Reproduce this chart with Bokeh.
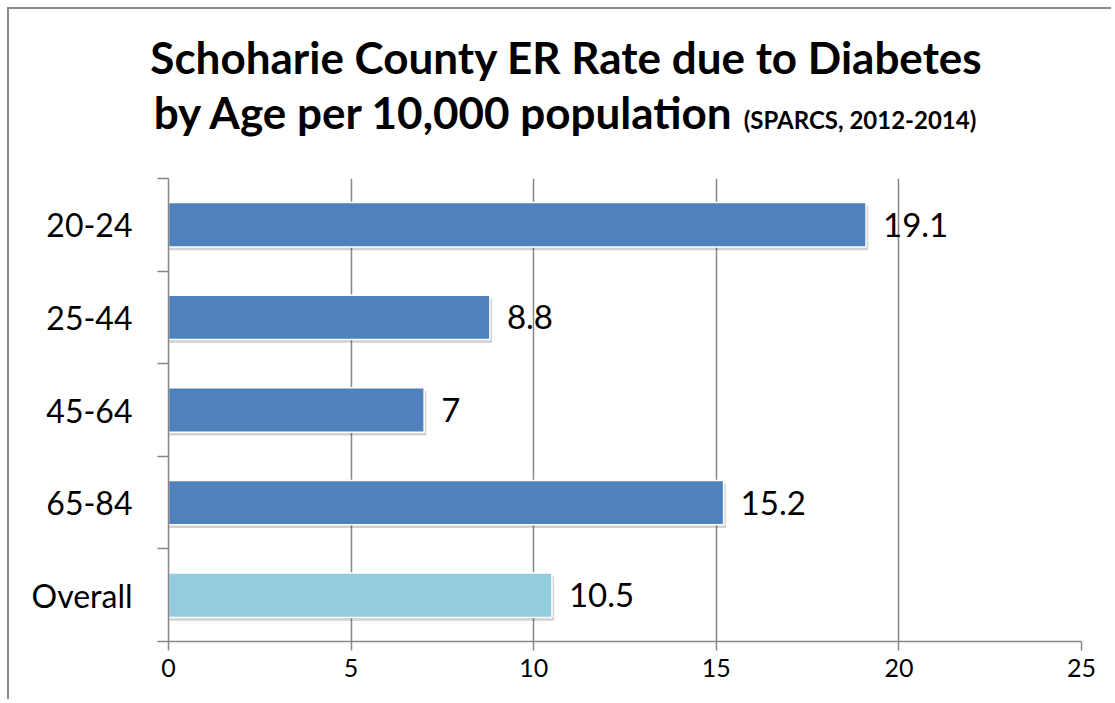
from bokeh.plotting import figure
from bokeh.models import ColumnDataSource, FixedTicker, Range1d, Div
from bokeh.layouts import column
from bokeh.core.properties import value
from bokeh.embed import file_html
from bokeh.resources import INLINE

# ---- data ----
categories = ["20-24", "25-44", "45-64", "65-84", "Overall"]
rates = [19.1, 8.8, 7, 15.2, 10.5]
rate_labels = ["19.1", "8.8", "7", "15.2", "10.5"]
x_ticks = [0, 5, 10, 15, 20, 25]
title_line1 = "Schoharie County ER Rate due to Diabetes"
title_line2 = "by Age per 10,000 population"
title_source = "(SPARCS, 2012-2014)"

FONT = "Lato"
GRAY = "#878787"

n = len(categories)
pos = [n - 1 - i + 0.5 for i in range(n)]
colors = ["#93CDDD" if c == "Overall" else "#4F81BD" for c in categories]

# layout: content starts at page (9,9); a 2px frame line drawn just above/left of it
OFF = 9
DIV_H = 170 - OFF
FIG_W = 1115 - OFF - 2
FIG_H = 703 - 170 - 2
FL = 168 - OFF
FR = FIG_W - (1081 - OFF)
FT = 8
FB = FIG_H - FT - 463

p = figure(width=FIG_W, height=FIG_H, output_backend="svg", toolbar_location=None,
           x_range=Range1d(0, 25), y_range=Range1d(0, n),
           min_border_left=FL, min_border_right=FR, min_border_top=FT, min_border_bottom=FB,
           margin=0)
p.outline_line_color = None
p.background_fill_color = "white"
p.border_fill_color = "white"

src = ColumnDataSource(dict(cat=categories, rate=rates, lab=rate_labels, y=pos, color=colors,
                            sy=[v - 0.035 for v in pos], sr=[r + 0.06 for r in rates]))

# grid
p.ygrid.grid_line_color = None
p.xgrid.ticker = FixedTicker(ticks=x_ticks)
p.xgrid.grid_line_color = GRAY
p.xgrid.grid_line_width = 1.5

# shadow + bars
p.hbar(y="sy", left=0, right="sr", height=0.48, source=src, fill_color="black",
       fill_alpha=0.18, line_color=None)
p.hbar(y="y", left=0, right="rate", height=0.48, source=src, fill_color="color",
       line_color="white", line_width=1.5)

# value labels
p.text(x="rate", y="y", text="lab", source=src, x_offset=17, text_baseline="middle",
       text_align="left", text_font=value(FONT), text_font_size="33px", text_color="black")

# x axis
xa = p.xaxis[0]
xa.ticker = FixedTicker(ticks=x_ticks)
xa.axis_line_color = GRAY
xa.axis_line_width = 1.5
xa.major_tick_line_color = GRAY
xa.major_tick_line_width = 1.5
xa.major_tick_in = 0
xa.major_tick_out = 9
xa.minor_tick_line_color = None
xa.major_label_text_font = FONT
xa.major_label_text_font_size = "25px"
xa.major_label_text_color = "black"
xa.major_label_standoff = 8

# y axis: labels at category centres, ticks at category boundaries
ya = p.yaxis[0]
ya.ticker = FixedTicker(ticks=pos, minor_ticks=list(range(n + 1)))
ya.major_label_overrides = {v: c for v, c in zip(pos, categories)}
ya.axis_line_color = GRAY
ya.axis_line_width = 1.5
ya.major_tick_line_color = None
ya.major_tick_in = 0
ya.major_tick_out = 11
ya.minor_tick_line_color = GRAY
ya.minor_tick_line_width = 1.5
ya.minor_tick_in = 0
ya.minor_tick_out = 11
ya.major_label_text_font = FONT
ya.major_label_text_font_size = "32px"
ya.major_label_text_color = "black"
ya.major_label_standoff = 25

# title block (centred boxes kept inside the Div so nothing overflows)
TFS = 44      # main title font size
SFS = 24      # source note font size
BL = 0.887    # baseline offset (fraction of font size) for line-height == font size

def centred_box(center):
    half = min(center, FIG_W - center) - 1
    return center - half, 2 * half

l1_left, l1_w = centred_box(566 - OFF)
l2_left, l2_w = centred_box(565 - OFF)

title_html = f"""
<div style="position:relative;width:{FIG_W}px;height:{DIV_H}px;overflow:hidden;font-family:Lato;font-weight:bold;color:#000;margin:0;padding:0;">
  <div style="position:absolute;left:{l1_left}px;top:{74 - OFF - BL * TFS:.1f}px;width:{l1_w}px;text-align:center;
              font-size:{TFS}px;line-height:{TFS}px;white-space:nowrap;">{title_line1}</div>
  <div style="position:absolute;left:{l2_left}px;top:{129 - OFF - BL * TFS:.1f}px;width:{l2_w}px;text-align:center;
              font-size:{TFS}px;line-height:{TFS}px;white-space:nowrap;">{title_line2}<span
              style="font-size:{SFS}px;margin-left:12px;">{title_source}</span></div>
</div>
"""
title_div = Div(text=title_html, width=FIG_W, height=DIV_H, margin=0)

layout = column(title_div, p, margin=(OFF, 0, 0, OFF), spacing=0,
                styles={"box-shadow": "-2px -2px 0 0 #888888"})

open("out.html", "w").write(file_html(layout, INLINE))
